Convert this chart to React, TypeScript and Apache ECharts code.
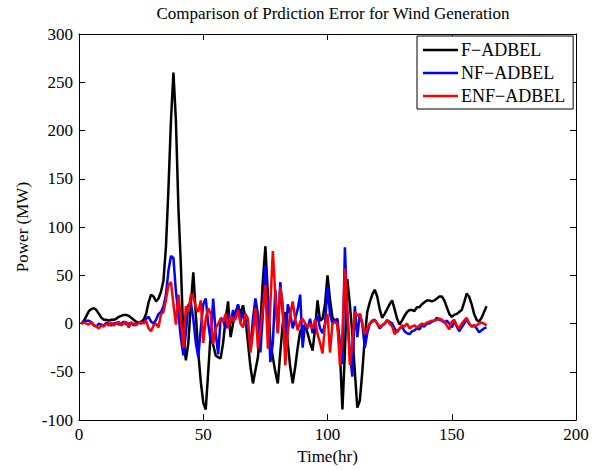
import React, { useEffect, useRef } from "react";
import * as echarts from "echarts";

const titleText = "Comparison of Prdiction Error for Wind Generation";
const seriesNames = ["F\u2212ADBEL", "NF\u2212ADBEL", "ENF\u2212ADBEL"];
const seriesColors = ["#000000", "#0000ff", "#ff0000"];

// hours 1..164
const hours: number[] = Array.from({ length: 164 }, (_, i) => i + 1);

const fAdbel = [
  0, 3, 8, 13, 15, 16, 14, 10, 6, 4,
  4, 3, 4, 4, 5, 7, 8, 9, 9, 8,
  6, 4, 2, 1, 2, 4, 10, 22, 30, 28,
  23, 26, 33, 45, 80, 140, 210, 260, 210, 120,
  60, -15, -38, -20, 20, 53, 10, -30, -60, -82,
  -89, -50, -10, -22, -33, -35, -36, -20, 5, 23,
  -14, 0, 12, 19, 10, 19, 5, -20, -45, -62,
  -48, -35, 0, 45, 80, 30, -18, -35, -50, -62,
  -30, 0, 12, -20, -45, -62, -45, -25, -8, -5,
  -1, -10, -20, -28, -5, 24, 3, 5, 20, 50,
  25, 6, 3, -1, -30, -89, -30, 46, 20, -11,
  -50, -87, -80, -50, -15, 12, 22, 30, 35, 28,
  15, 6, 10, 15, 20, 24, 15, 5, -1, 3,
  8, 12, 14, 14, 13, 17, 17, 20, 22, 24,
  24, 23, 24, 26, 28, 28, 24, 17, 10, 7,
  9, 10, 12, 14, 22, 31, 28, 20, 10, 4,
  2, 6, 12, 18,
];

const nfAdbel = [
  0, 2, 3, 3, 1, -2, -3, 0, -1, -2,
  1, 0, -2, 0, 1, -1, 0, 2, -1, 0,
  1, -2, 0, 1, 0, 2, 5, 7, 2, 0,
  4, 10, 12, 18, 30, 55, 70, 68, 33, 10,
  -15, -33, -10, 19, 22, 5, -20, -35, -5, 20,
  26, 0, -18, 26, -10, -32, 6, 3, -5, 10,
  0, 14, 5, 20, 2, 12, 0, -5, -25, 5,
  26, 10, -30, 10, 60, 20, -40, -20, 35, -10,
  43, 10, -26, 20, 10, -5, 5, 15, 30, -25,
  0, -5, 5, -10, 0, 8, -5, -10, 0, 38,
  10, 0, 3, 5, -20, -42, 79, 10, -30, -55,
  18, -14, 10, 0, -25, -10, 0, 3, 4, 0,
  -5, -2, 0, 3, 2, 0, -5, -9, -5, -3,
  -8, -10, -11, -8, -7, -5, -6, -2, -3, 0,
  0, 2, 3, 6, 4, 3, 1, 3, 0, -4,
  2, -3, -8, -4, 0, 4, 0, -3, -2, -5,
  -9, -7, -5, -4,
];

const enfAdbel = [
  0, 1, 0, -1, 2, -2, -3, -5, -2, -3,
  0, -2, 1, -2, 0, 2, -2, 0, 2, -4,
  1, 0, -2, 1, 2, 0, 3, -5, -8, -2,
  0, -4, 10, 12, 25, 40, 43, 20, -1, 30,
  5, -25, 18, 12, 30, 28, 17, 12, 24, -20,
  5, 16, 10, -21, -5, 0, 5, 2, 10, -5,
  8, 3, 5, 14, 0, -4, 10, 5, -30, -10,
  16, -26, -5, 15, 40, -26, 20, 75, 30, -10,
  38, 20, -43, -10, 10, 23, 5, -7, 2, 5,
  0, -4, 0, -5, 4, -11, -20, -31, -1, 10,
  -30, 0, 2, 0, -43, -10, 57, 10, -43, -20,
  12, 8, 10, 0, -11, -5, 0, 2, 4, 0,
  -3, -2, 0, 4, 0, -3, -11, -8, -5, -2,
  -3, 0, -5, -3, -2, -4, -2, 0, -1, 1,
  2, 3, 3, 4, 5, 4, 2, -2, -6, 2,
  4, -2, -5, 0, 3, 6, 0, -3, -2, -2,
  0, 1, 0, -2,
];

const seriesValues = [fAdbel, nfAdbel, enfAdbel];

const FONT = "'Liberation Serif', 'Times New Roman', serif";

export default function App() {
  const ref = useRef<HTMLDivElement>(null);
  useEffect(() => {
    if (!ref.current) return;
    const chart = echarts.init(ref.current, null, { renderer: "svg" });
    const axisCommon = {
      axisLine: { show: true, onZero: false, lineStyle: { color: "#000", width: 1 } },
      axisTick: { show: true, inside: true, length: 6, lineStyle: { color: "#000" } },
      splitLine: { show: false },
    };
    chart.setOption({
      animation: false,
      backgroundColor: "#fff",
      title: {
        text: titleText,
        left: 328,
        textAlign: "center",
        top: 0,
        textStyle: { fontFamily: FONT, fontSize: 17, fontWeight: "normal", color: "#000" },
      },
      legend: {
        data: seriesNames.map((n) => ({ name: n })),
        orient: "vertical",
        left: 417,
        top: 36,
        padding: [5, 8, 4, 6],
        itemGap: 5,
        itemWidth: 35,
        itemHeight: 2.5,
        icon: "rect",
        borderColor: "#000",
        borderWidth: 1,
        backgroundColor: "#fff",
        textStyle: { fontFamily: FONT, fontSize: 18, color: "#000", padding: [0, 0, 0, -2] },
      },
      grid: { left: 79, right: 27, top: 34, bottom: 39, containLabel: false },
      xAxis: [
        {
          type: "value",
          min: 0,
          max: 200,
          interval: 50,
          position: "bottom",
          name: "Time(hr)",
          nameLocation: "middle",
          nameGap: 26,
          nameTextStyle: { fontFamily: FONT, fontSize: 17, color: "#000" },
          axisLabel: { fontFamily: FONT, fontSize: 17, color: "#000", margin: 6 },
          ...axisCommon,
        },
        {
          type: "value",
          min: 0,
          max: 200,
          interval: 50,
          position: "top",
          axisLabel: { show: false },
          ...axisCommon,
        },
      ],
      yAxis: [
        {
          type: "value",
          min: -100,
          max: 300,
          interval: 50,
          position: "left",
          name: "Power (MW)",
          nameLocation: "middle",
          nameGap: 43,
          nameTextStyle: { fontFamily: FONT, fontSize: 17, color: "#000" },
          axisLabel: { fontFamily: FONT, fontSize: 17, color: "#000", margin: 6 },
          ...axisCommon,
        },
        {
          type: "value",
          min: -100,
          max: 300,
          interval: 50,
          position: "right",
          axisLabel: { show: false },
          ...axisCommon,
        },
      ],
      series: seriesNames.map((name, i) => ({
        name,
        type: "line",
        xAxisIndex: 0,
        yAxisIndex: 0,
        showSymbol: false,
        symbol: "none",
        color: seriesColors[i],
        lineStyle: { color: seriesColors[i], width: 2.5 },
        data: hours.map((h, j) => [h, seriesValues[i][j]]),
        z: 2 + i,
      })),
    });
    return () => chart.dispose();
  }, []);
  return (
    <div
      ref={ref}
      style={{ position: "fixed", left: 0, top: 0, width: 603, height: 470 }}
    />
  );
}
